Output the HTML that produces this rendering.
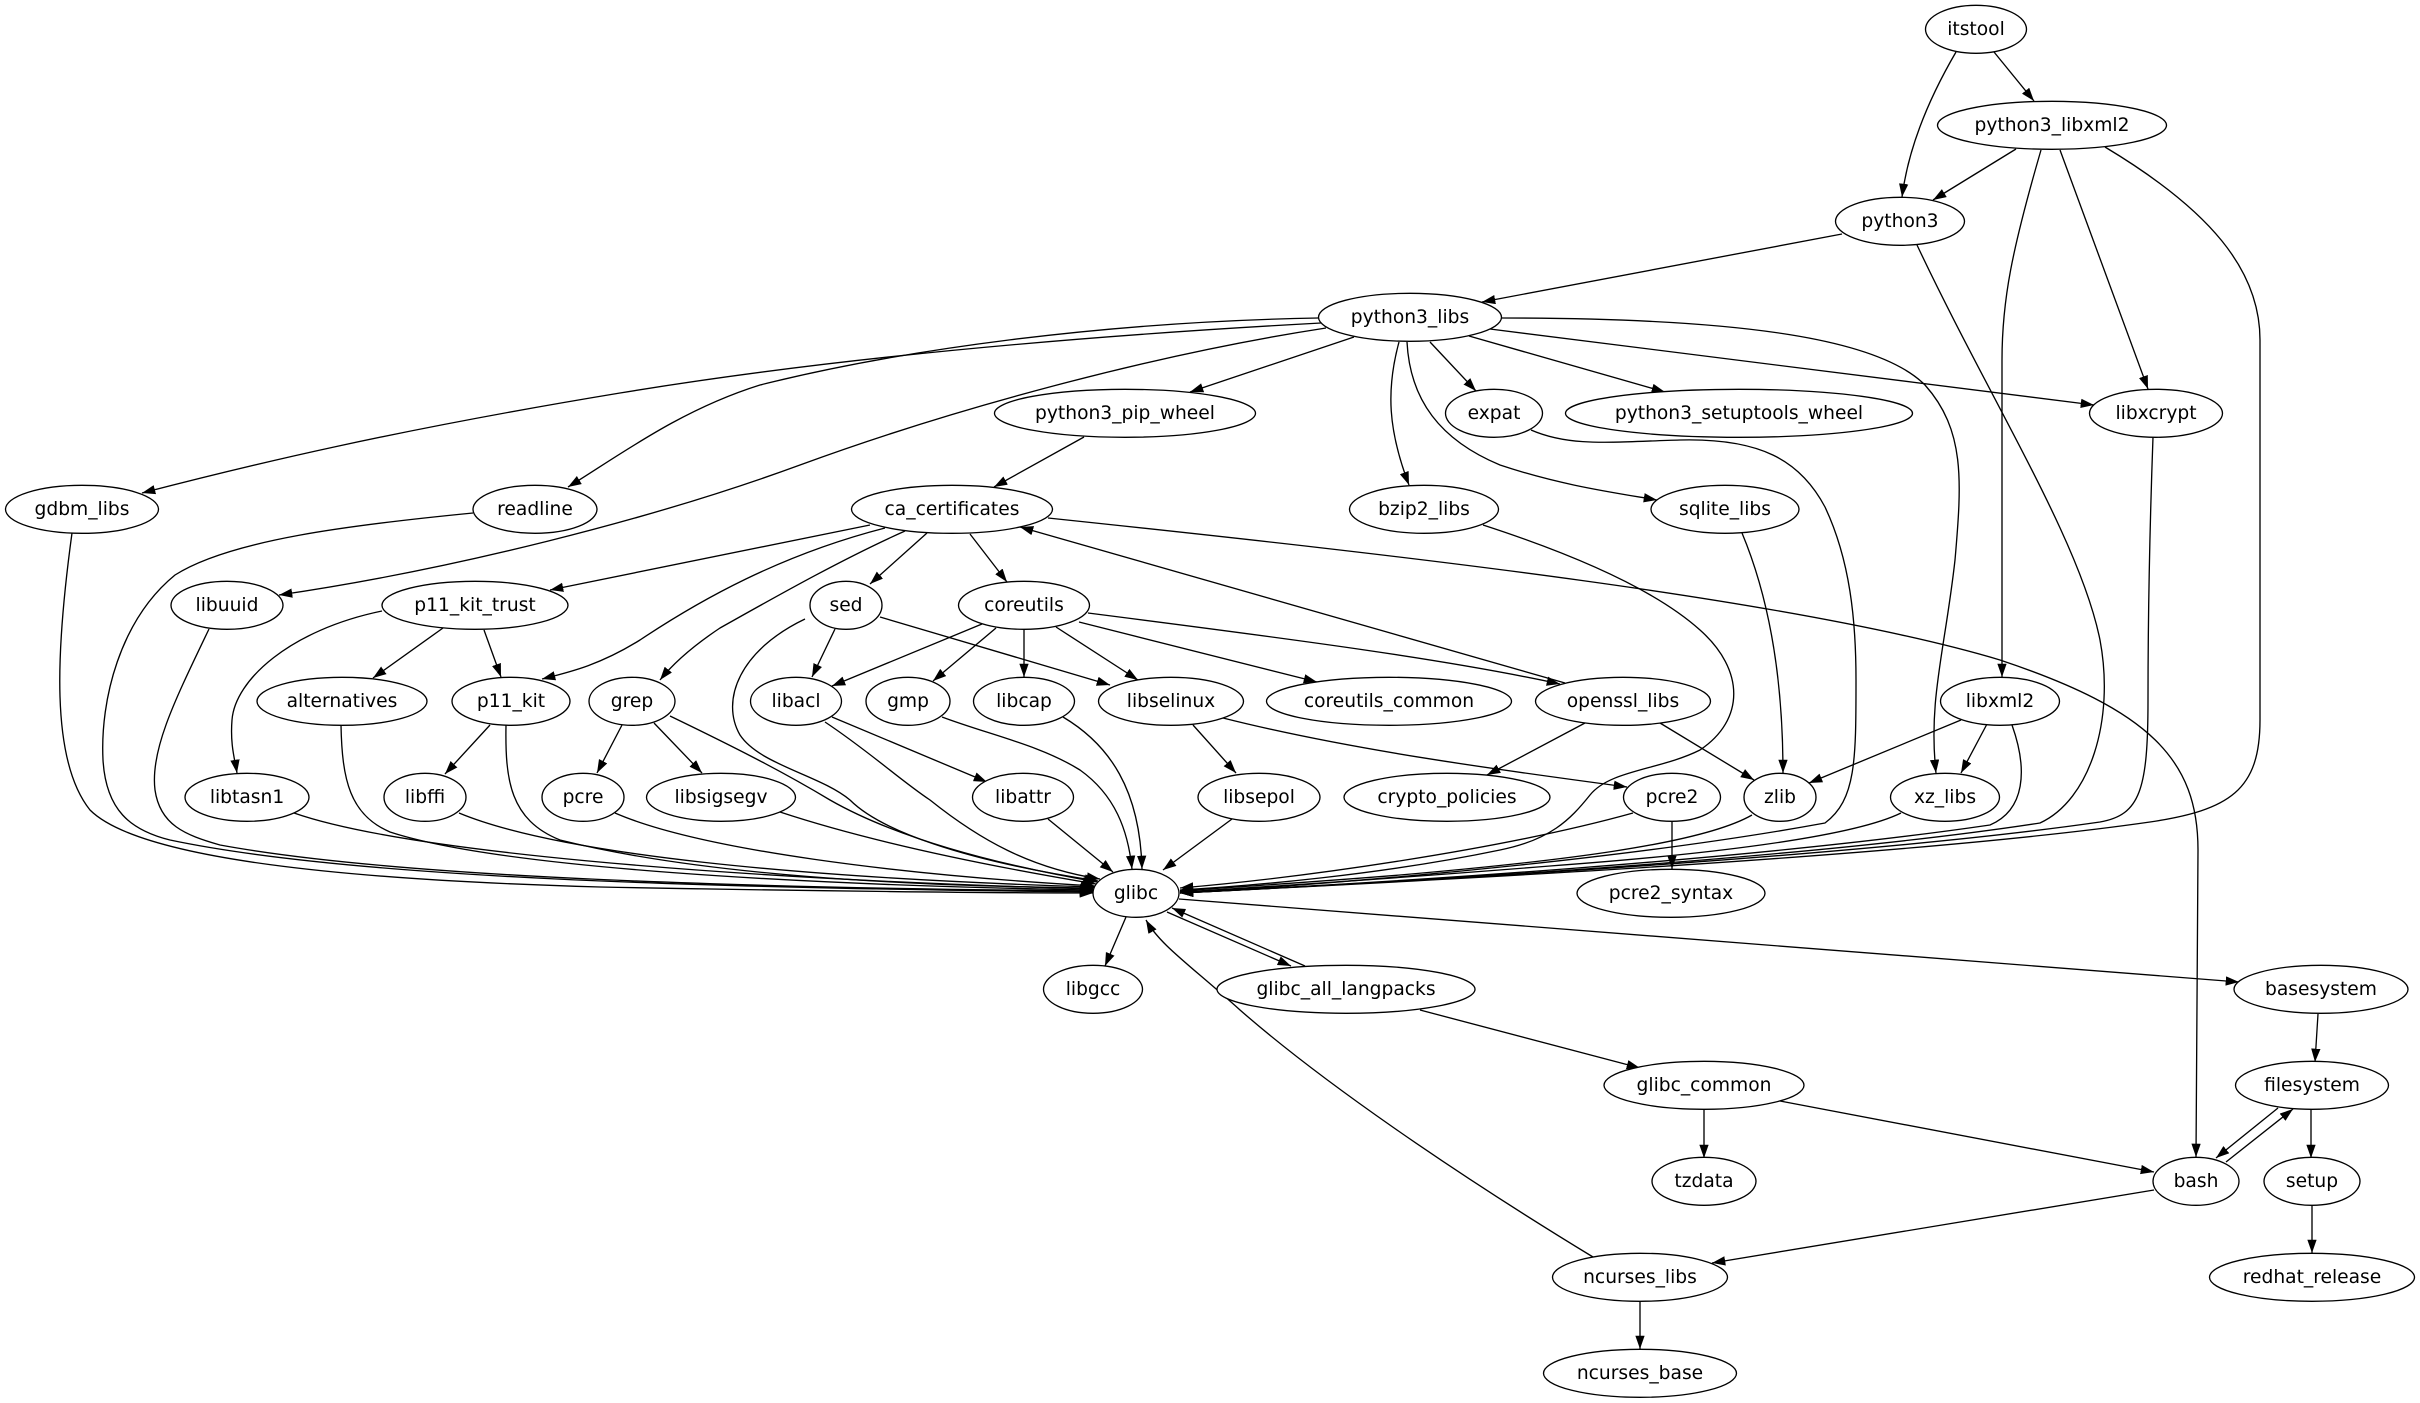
<!DOCTYPE html>
<html><head><meta charset="utf-8"><style>
html,body{margin:0;padding:0;background:#fff;}
svg{display:block;}
text{font-family:"DejaVu Sans","Liberation Sans",sans-serif;font-size:18.67px;text-anchor:middle;fill:#000;}
.e path{fill:none;stroke:#000;stroke-width:1.33;}
ellipse{fill:#fff;stroke:#000;stroke-width:1.33;}
</style></head><body>
<svg width="2420" height="1403" viewBox="0 0 2420 1403" xmlns="http://www.w3.org/2000/svg">
<defs><marker id="a" markerUnits="userSpaceOnUse" markerWidth="14" markerHeight="10" refX="13.3" refY="4.67" orient="auto" viewBox="0 0 14 10"><path d="M0,0 L13.3,4.67 L0,9.33 z" fill="#000"/></marker></defs>
<rect width="2420" height="1403" fill="#fff"/>
<g class="e" marker-end="url(#a)">
<path marker-end="url(#a)" d="M1956,52 C1928,100 1908,150 1902,197"/>
<path marker-end="url(#a)" d="M1994,52 L2034,101"/>
<path marker-end="url(#a)" d="M2016,149 L1933,200"/>
<path marker-end="url(#a)" d="M2041,150 C2012,250 2002,300 2002,360 L2002,677"/>
<path marker-end="url(#a)" d="M2060,150 L2148,389"/>
<path marker-end="url(#a)" d="M2105,147 C2210,210 2260,270 2260,340 L2260,720 C2260,790 2230,810 2150,822 C1900,858 1400,882 1180,893"/>
<path marker-end="url(#a)" d="M1842,234 L1482,302"/>
<path marker-end="url(#a)" d="M1917,245 C1990,400 2080,540 2100,640 C2115,720 2090,800 2040,823 C1800,860 1400,882 1180,893"/>
<path marker-end="url(#a)" d="M1321,323 C1100,335 850,355 620,393 S250,465 142,493"/>
<path marker-end="url(#a)" d="M1318,318 C1100,322 900,350 760,385 C680,410 620,455 568,487"/>
<path marker-end="url(#a)" d="M1326,328 C1150,355 950,410 800,465 C650,520 450,570 279,595"/>
<path marker-end="url(#a)" d="M1354,337 L1190,392"/>
<path marker-end="url(#a)" d="M1399,342 C1386,390 1388,430 1409,485"/>
<path marker-end="url(#a)" d="M1407,342 C1410,400 1440,440 1500,465 C1560,485 1610,492 1657,500"/>
<path marker-end="url(#a)" d="M1430,342 L1476,391"/>
<path marker-end="url(#a)" d="M1469,336 L1665,392"/>
<path marker-end="url(#a)" d="M1490,329 L2094,405"/>
<path marker-end="url(#a)" d="M1501,318 C1750,318 1880,340 1925,385 C1965,430 1962,480 1955,560 C1945,650 1928,700 1936,773"/>
<path marker-end="url(#a)" d="M1084,437 L994,487"/>
<path marker-end="url(#a)" d="M1531,430 C1570,447 1610,442 1680,440 C1760,438 1800,460 1825,507 C1850,560 1856,620 1856,680 C1856,760 1856,800 1825,823 C1650,855 1400,880 1180,893"/>
<path marker-end="url(#a)" d="M2153,437 C2150,520 2148,600 2148,700 C2148,790 2140,815 2100,822 C1850,858 1400,882 1180,893"/>
<path marker-end="url(#a)" d="M2012,725 C2028,770 2025,810 1990,825 C1750,860 1400,882 1180,893"/>
<path marker-end="url(#a)" d="M1633,813 C1500,850 1300,878 1180,888"/>
<path marker-end="url(#a)" d="M1752,815 C1700,845 1550,862 1400,875 C1300,883 1220,888 1180,891"/>
<path marker-end="url(#a)" d="M1901,813 C1850,838 1700,855 1550,866 C1400,878 1250,888 1180,892"/>
<path marker-end="url(#a)" d="M1483,525 C1560,550 1650,585 1700,630 C1745,670 1745,720 1700,750 C1660,770 1610,770 1590,795 C1570,820 1550,840 1500,850 C1380,875 1250,886 1180,890"/>
<path marker-end="url(#a)" d="M72,533 C56,650 50,760 90,810 C140,860 350,880 600,887 C800,891 1000,893 1093,893"/>
<path marker-end="url(#a)" d="M473,513 C350,525 230,540 175,575 C120,620 100,700 103,760 C106,810 130,830 170,840 C350,878 700,888 1093,892"/>
<path marker-end="url(#a)" d="M209,629 C175,700 150,750 155,790 C160,825 185,835 220,845 C400,878 750,888 1093,891"/>
<path marker-end="url(#a)" d="M341,725 C342,780 350,815 390,832 C500,868 800,885 1093,890"/>
<path marker-end="url(#a)" d="M506,725 C505,780 510,820 560,840 C700,875 900,886 1094,888"/>
<path marker-end="url(#a)" d="M294,813 C400,850 700,878 1093,889"/>
<path marker-end="url(#a)" d="M459,813 C560,855 800,878 1094,887"/>
<path marker-end="url(#a)" d="M615,813 C700,850 900,875 1095,886"/>
<path marker-end="url(#a)" d="M780,812 C880,845 1000,868 1096,884"/>
<path marker-end="url(#a)" d="M670,716 C730,745 780,770 830,800 C900,840 1000,865 1097,882"/>
<path marker-end="url(#a)" d="M805,619 C740,650 720,700 740,735 C760,765 820,775 850,800 C880,830 960,860 1098,881"/>
<path marker-end="url(#a)" d="M825,722 C870,752 900,780 930,800 C980,840 1030,868 1100,879"/>
<path marker-end="url(#a)" d="M942,717 C990,735 1040,745 1080,770 C1115,795 1128,830 1132,869"/>
<path marker-end="url(#a)" d="M1063,717 C1110,745 1140,790 1142,869"/>
<path marker-end="url(#a)" d="M1048,819 L1113,872"/>
<path marker-end="url(#a)" d="M1232,819 L1163,870"/>
<path marker-end="url(#a)" d="M1742,533 C1770,600 1783,680 1783,773"/>
<path marker-end="url(#a)" d="M870,525 L550,590"/>
<path marker-end="url(#a)" d="M885,528 C780,555 700,600 640,640 C600,665 570,672 542,679"/>
<path marker-end="url(#a)" d="M905,531 C840,560 770,600 720,628 C690,648 672,665 660,680"/>
<path marker-end="url(#a)" d="M927,533 L870,584"/>
<path marker-end="url(#a)" d="M970,534 L1007,582"/>
<path marker-end="url(#a)" d="M1048,518 C1400,555 1800,600 2000,660 C2150,710 2198,760 2198,850 L2196,1157"/>
<path marker-end="url(#a)" d="M1565,683 L1020,527"/>
<path marker-end="url(#a)" d="M835,629 L812,677"/>
<path marker-end="url(#a)" d="M880,617 L1110,685"/>
<path marker-end="url(#a)" d="M982,624 L832,686"/>
<path marker-end="url(#a)" d="M996,628 L933,681"/>
<path marker-end="url(#a)" d="M1024,629 L1024,677"/>
<path marker-end="url(#a)" d="M1056,627 L1138,680"/>
<path marker-end="url(#a)" d="M1079,622 L1317,682"/>
<path marker-end="url(#a)" d="M1088,613 C1300,640 1450,660 1560,684"/>
<path marker-end="url(#a)" d="M832,717 L987,782"/>
<path marker-end="url(#a)" d="M1193,725 L1236,773"/>
<path marker-end="url(#a)" d="M1223,718 C1350,750 1500,770 1627,787"/>
<path marker-end="url(#a)" d="M1585,723 L1487,775"/>
<path marker-end="url(#a)" d="M1660,723 L1754,780"/>
<path marker-end="url(#a)" d="M1961,720 L1809,783"/>
<path marker-end="url(#a)" d="M1987,724 L1961,773"/>
<path marker-end="url(#a)" d="M1672,821 L1672,869"/>
<path marker-end="url(#a)" d="M382,611 C290,630 235,680 232,720 C230,745 235,760 237,773"/>
<path marker-end="url(#a)" d="M443,628 L373,678"/>
<path marker-end="url(#a)" d="M484,630 L501,677"/>
<path marker-end="url(#a)" d="M490,725 L445,774"/>
<path marker-end="url(#a)" d="M622,725 L597,773"/>
<path marker-end="url(#a)" d="M654,723 L702,773"/>
<path marker-end="url(#a)" d="M1126,917 L1105,966"/>
<path marker-end="url(#a)" d="M1167,912 L1291,966"/>
<path marker-end="url(#a)" d="M1305,966 L1172,908"/>
<path marker-end="url(#a)" d="M1179,899 L2239,982"/>
<path marker-end="url(#a)" d="M1420,1010 L1640,1068"/>
<path marker-end="url(#a)" d="M1593,1257 C1450,1170 1320,1080 1240,1010 C1190,965 1160,945 1146,920"/>
<path marker-end="url(#a)" d="M1704,1110 L1704,1158"/>
<path marker-end="url(#a)" d="M1780,1101 L2154,1172"/>
<path marker-end="url(#a)" d="M2154,1190 L1712,1263"/>
<path marker-end="url(#a)" d="M1640,1302 L1640,1349"/>
<path marker-end="url(#a)" d="M2318,1014 L2315,1062"/>
<path marker-end="url(#a)" d="M2278,1108 L2216,1158"/>
<path marker-end="url(#a)" d="M2226,1162 L2293,1109"/>
<path marker-end="url(#a)" d="M2311,1109 L2311,1158"/>
<path marker-end="url(#a)" d="M2312,1205 L2312,1253"/>
</g>
<g>
<ellipse cx="1976" cy="29.3" rx="50.5" ry="24"/><text x="1976" y="34.8">itstool</text>
<ellipse cx="2052" cy="125.3" rx="114.5" ry="24"/><text x="2052" y="130.8">python3_libxml2</text>
<ellipse cx="1900" cy="221.3" rx="64.5" ry="24"/><text x="1900" y="226.8">python3</text>
<ellipse cx="1410" cy="317.3" rx="91.5" ry="24"/><text x="1410" y="322.8">python3_libs</text>
<ellipse cx="1125" cy="413.3" rx="130.5" ry="24"/><text x="1125" y="418.8">python3_pip_wheel</text>
<ellipse cx="1494" cy="413.3" rx="48.5" ry="24"/><text x="1494" y="418.8">expat</text>
<ellipse cx="1739" cy="413.3" rx="173.5" ry="24"/><text x="1739" y="418.8">python3_setuptools_wheel</text>
<ellipse cx="2156" cy="413.3" rx="66.5" ry="24"/><text x="2156" y="418.8">libxcrypt</text>
<ellipse cx="82" cy="509.3" rx="76.5" ry="24"/><text x="82" y="514.8">gdbm_libs</text>
<ellipse cx="535" cy="509.3" rx="62" ry="24"/><text x="535" y="514.8">readline</text>
<ellipse cx="952" cy="509.3" rx="100.5" ry="24"/><text x="952" y="514.8">ca_certificates</text>
<ellipse cx="1424" cy="509.3" rx="74.5" ry="24"/><text x="1424" y="514.8">bzip2_libs</text>
<ellipse cx="1725" cy="509.3" rx="74" ry="24"/><text x="1725" y="514.8">sqlite_libs</text>
<ellipse cx="227" cy="605.3" rx="56" ry="24"/><text x="227" y="610.8">libuuid</text>
<ellipse cx="475" cy="605.3" rx="93" ry="24"/><text x="475" y="610.8">p11_kit_trust</text>
<ellipse cx="846" cy="605.3" rx="36" ry="24"/><text x="846" y="610.8">sed</text>
<ellipse cx="1024" cy="605.3" rx="65.5" ry="24"/><text x="1024" y="610.8">coreutils</text>
<ellipse cx="342" cy="701.3" rx="85" ry="24"/><text x="342" y="706.8">alternatives</text>
<ellipse cx="511" cy="701.3" rx="59" ry="24"/><text x="511" y="706.8">p11_kit</text>
<ellipse cx="632" cy="701.3" rx="43" ry="24"/><text x="632" y="706.8">grep</text>
<ellipse cx="796" cy="701.3" rx="45.5" ry="24"/><text x="796" y="706.8">libacl</text>
<ellipse cx="908" cy="701.3" rx="42" ry="24"/><text x="908" y="706.8">gmp</text>
<ellipse cx="1024" cy="701.3" rx="50.5" ry="24"/><text x="1024" y="706.8">libcap</text>
<ellipse cx="1171" cy="701.3" rx="72.5" ry="24"/><text x="1171" y="706.8">libselinux</text>
<ellipse cx="1389" cy="701.3" rx="122.5" ry="24"/><text x="1389" y="706.8">coreutils_common</text>
<ellipse cx="1623" cy="701.3" rx="87.5" ry="24"/><text x="1623" y="706.8">openssl_libs</text>
<ellipse cx="2000" cy="701.3" rx="59.5" ry="24"/><text x="2000" y="706.8">libxml2</text>
<ellipse cx="247" cy="797.3" rx="62" ry="24"/><text x="247" y="802.8">libtasn1</text>
<ellipse cx="425" cy="797.3" rx="41" ry="24"/><text x="425" y="802.8">libffi</text>
<ellipse cx="583" cy="797.3" rx="41" ry="24"/><text x="583" y="802.8">pcre</text>
<ellipse cx="721" cy="797.3" rx="74.5" ry="24"/><text x="721" y="802.8">libsigsegv</text>
<ellipse cx="1023" cy="797.3" rx="50.5" ry="24"/><text x="1023" y="802.8">libattr</text>
<ellipse cx="1259" cy="797.3" rx="61" ry="24"/><text x="1259" y="802.8">libsepol</text>
<ellipse cx="1447" cy="797.3" rx="103" ry="24"/><text x="1447" y="802.8">crypto_policies</text>
<ellipse cx="1672" cy="797.3" rx="48.5" ry="24"/><text x="1672" y="802.8">pcre2</text>
<ellipse cx="1780" cy="797.3" rx="36" ry="24"/><text x="1780" y="802.8">zlib</text>
<ellipse cx="1945" cy="797.3" rx="54.5" ry="24"/><text x="1945" y="802.8">xz_libs</text>
<ellipse cx="1136" cy="893.3" rx="43" ry="24"/><text x="1136" y="898.8">glibc</text>
<ellipse cx="1671" cy="893.3" rx="94" ry="24"/><text x="1671" y="898.8">pcre2_syntax</text>
<ellipse cx="1093" cy="989.3" rx="49.5" ry="24"/><text x="1093" y="994.8">libgcc</text>
<ellipse cx="1346" cy="989.3" rx="129" ry="24"/><text x="1346" y="994.8">glibc_all_langpacks</text>
<ellipse cx="2321" cy="989.3" rx="87" ry="24"/><text x="2321" y="994.8">basesystem</text>
<ellipse cx="1704" cy="1085.3" rx="100" ry="24"/><text x="1704" y="1090.8">glibc_common</text>
<ellipse cx="2312" cy="1085.3" rx="76.5" ry="24"/><text x="2312" y="1090.8">filesystem</text>
<ellipse cx="1704" cy="1181.3" rx="52" ry="24"/><text x="1704" y="1186.8">tzdata</text>
<ellipse cx="2196" cy="1181.3" rx="43" ry="24"/><text x="2196" y="1186.8">bash</text>
<ellipse cx="2312" cy="1181.3" rx="48" ry="24"/><text x="2312" y="1186.8">setup</text>
<ellipse cx="1640" cy="1277.3" rx="87.5" ry="24"/><text x="1640" y="1282.8">ncurses_libs</text>
<ellipse cx="2312" cy="1277.3" rx="102.5" ry="24"/><text x="2312" y="1282.8">redhat_release</text>
<ellipse cx="1640" cy="1373.3" rx="96.5" ry="24"/><text x="1640" y="1378.8">ncurses_base</text>
</g>
</svg>
</body></html>
